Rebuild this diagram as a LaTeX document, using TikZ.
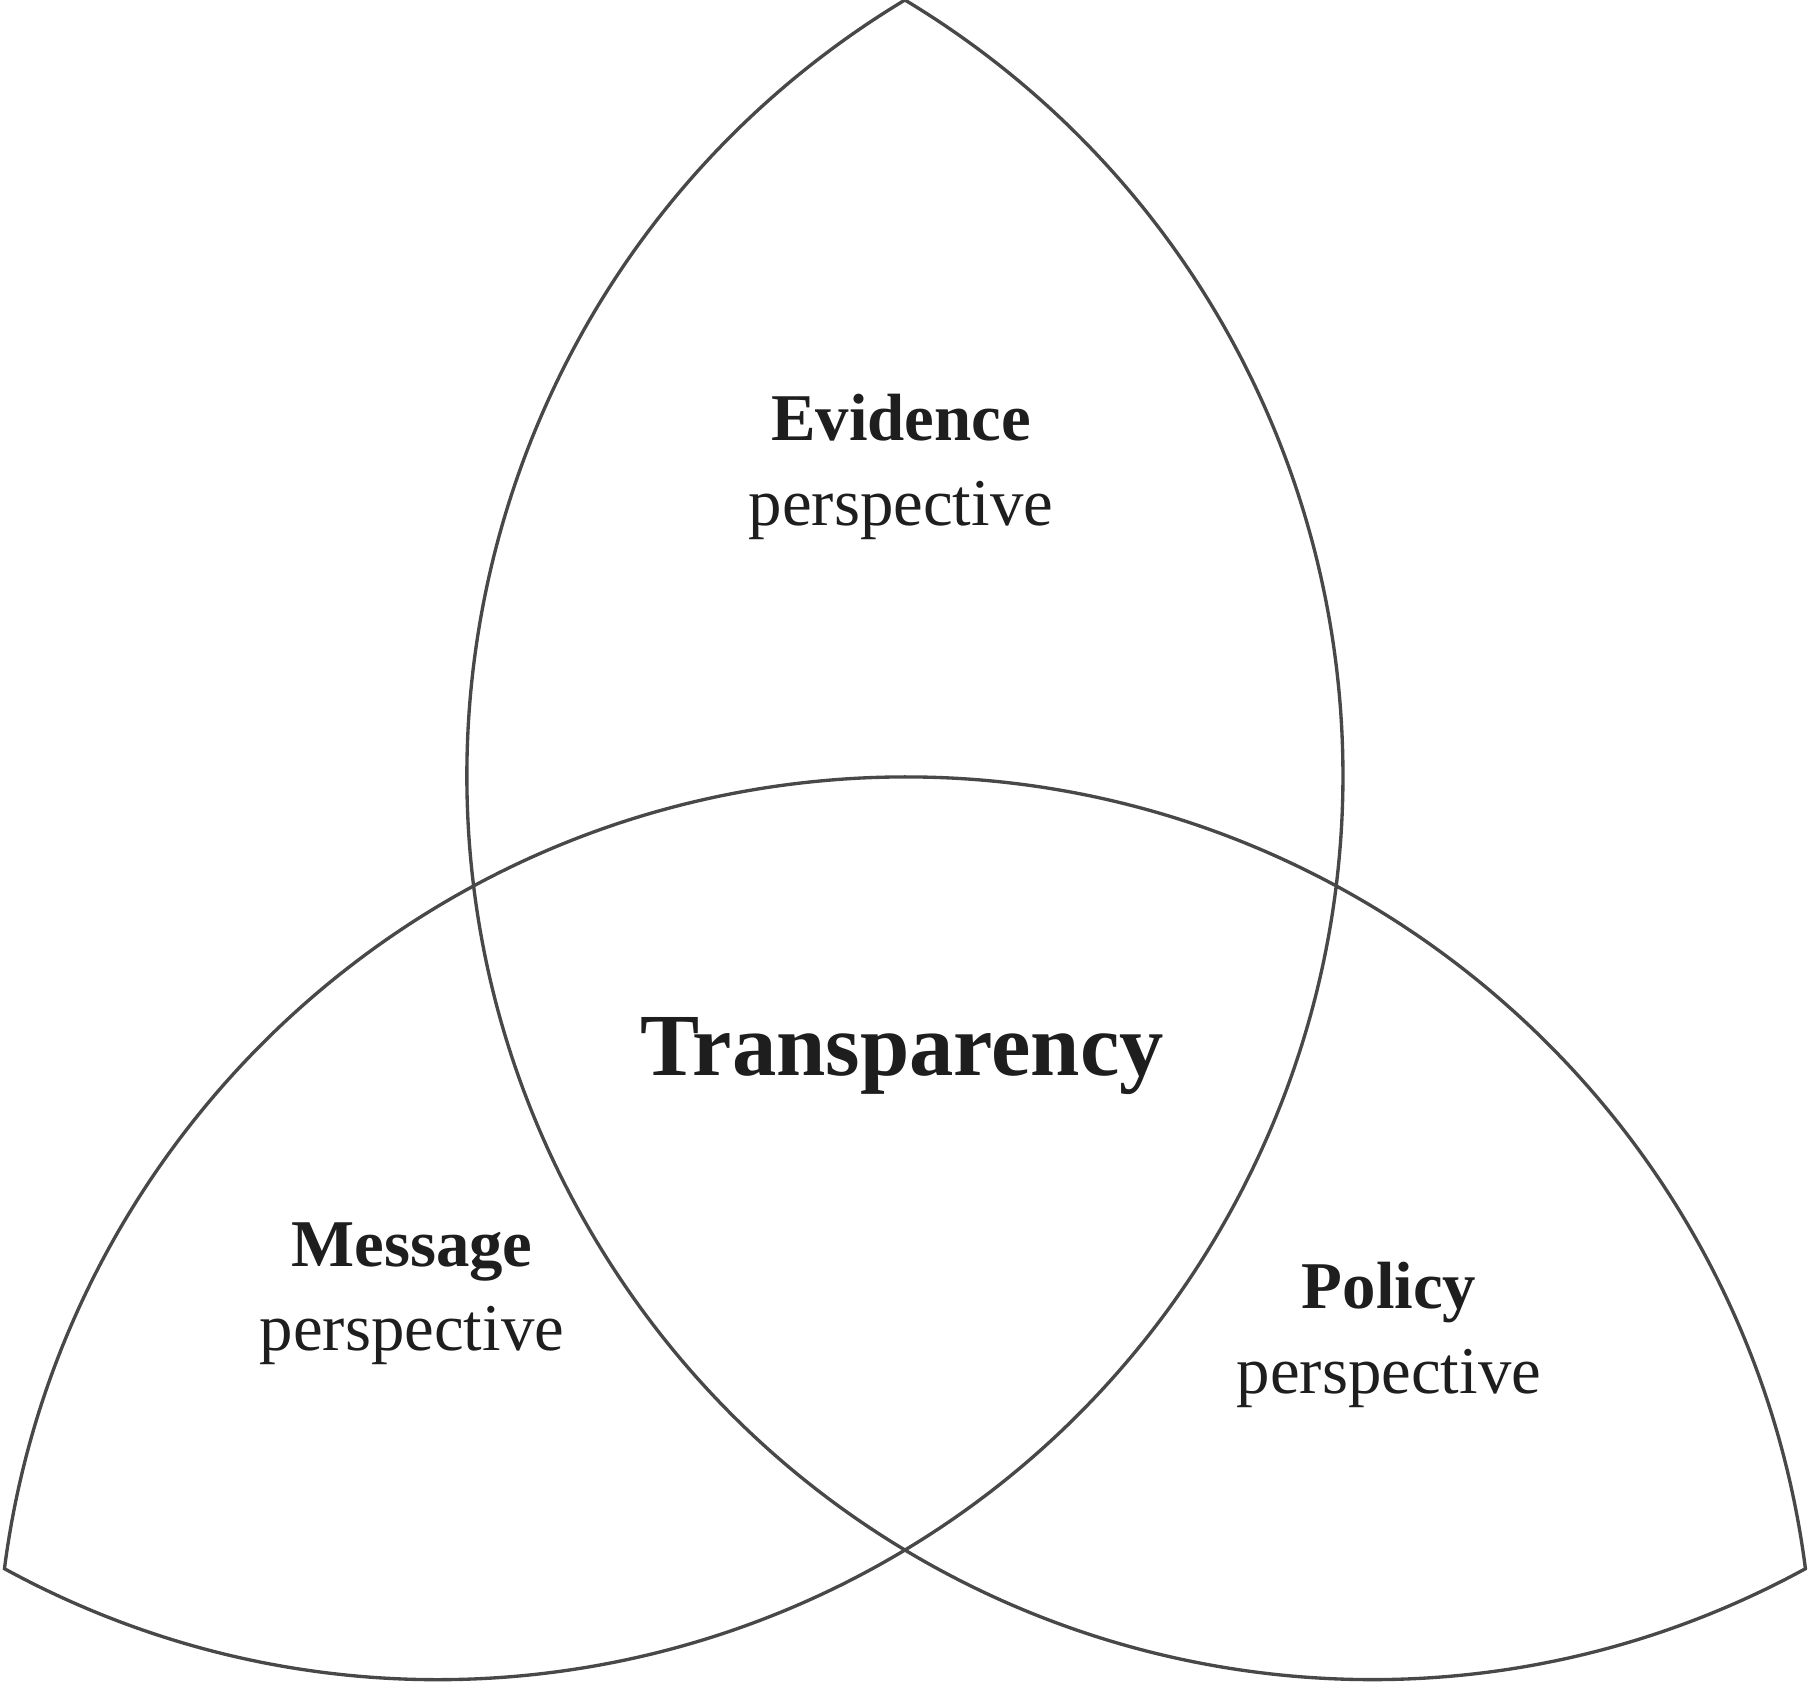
\documentclass[tikz,border=0pt]{standalone}
\usepackage{fontspec}
\setmainfont{Liberation Serif}
\begin{document}
\begin{tikzpicture}[x=0.01cm,y=0.01cm,
  outline/.style={draw={rgb,255:red,72;green,72;blue,72}, line width=0.95pt, line join=miter},
  petallabel/.style={align=center, text={rgb,255:red,30;green,30;blue,30}, font=\fontsize{19}{24}\selectfont, inner sep=0pt},
  centrallabel/.style={text={rgb,255:red,30;green,30;blue,30}, font=\fontsize{25.2}{30}\selectfont\bfseries, inner sep=0pt}]
\useasboundingbox (0,0) rectangle (1810,1683);
\coordinate (T) at (905,1683);
\draw[outline] (T)
  arc[start angle=121.05, end angle=298.66, radius=904.6] coordinate (CR)
  arc[start angle=7.36, end angle=172.64, radius=908] coordinate (CL)
  arc[start angle=241.34, end angle=418.95, radius=904.6] -- cycle;
\node[petallabel] (evidence) at (901,1216) {\textbf{Evidence}\\perspective};
\node[centrallabel, anchor=base] (transparency) at (902,607) {Transparency};
\node[petallabel] (message) at (412,389) {\textbf{Message}\\perspective};
\node[petallabel] (policy) at (1389,348) {\textbf{Policy}\\perspective};
\end{tikzpicture}
\end{document}
